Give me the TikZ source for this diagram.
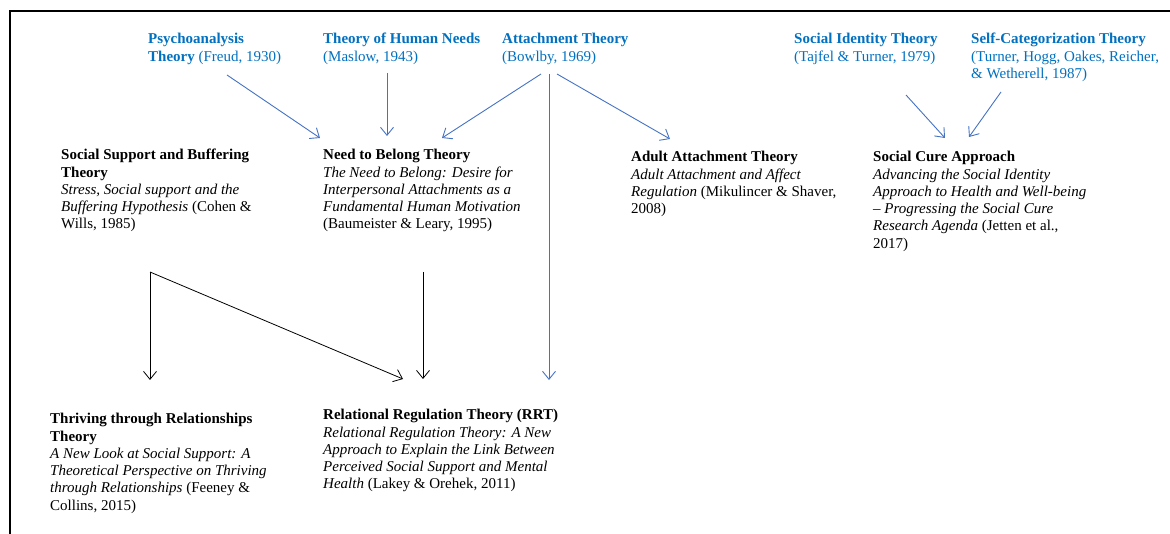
\documentclass[tikz,border=0pt]{standalone}
\usepackage{fontspec}
\setmainfont{Liberation Serif}
\usetikzlibrary{arrows.meta}
\definecolor{txtblue}{HTML}{0070C0}
\definecolor{arrblue}{HTML}{4472C4}
\newcommand{\mytab}[1]{\begin{tabular}[t]{@{}l@{}}#1\end{tabular}}
\begin{document}
\begin{tikzpicture}[x=1pt,y=-1pt,
  lbl/.style={anchor=base west, inner sep=0pt, font=\fontsize{15}{17.25}\selectfont},
  src/.style={lbl, text=txtblue},
  barb/.style={-{Straight Barb[length=8pt,width=13pt]}},
  blueconn/.style={draw=arrblue, line width=0.9pt, barb},
  blackconn/.style={draw=black, line width=0.8pt, barb},
  frame/.style={line width=1.5pt}]
\useasboundingbox (0,0) rectangle (1170,534);
\draw[frame] (10,534) -- (10,11) -- (1170,11);

% sources
\node[src] (psy) at (148,44) {\mytab{\textbf{Psychoanalysis}\\\textbf{Theory} (Freud, 1930)}};
\node[src] (maslow) at (323,44) {\mytab{\textbf{Theory of Human Needs}\\(Maslow, 1943)}};
\node[src] (bowlby) at (502,44) {\mytab{\textbf{Attachment Theory}\\(Bowlby, 1969)}};
\node[src] (sit) at (794,44) {\mytab{\textbf{Social Identity Theory}\\(Tajfel \& Turner, 1979)}};
\node[src] (sct) at (971,44) {\mytab{\textbf{Self-Categorization Theory}\\(Turner, Hogg, Oakes, Reicher,\\\& Wetherell, 1987)}};

% second row
\node[lbl] (ssb) at (61,160) {\mytab{\textbf{Social Support and Buffering}\\\textbf{Theory}\\\textit{Stress, Social support and the}\\\textit{Buffering Hypothesis} (Cohen \&\\Wills, 1985)}};
\node[lbl] (ntb) at (323,160) {\mytab{\textbf{Need to Belong Theory}\\\textit{The Need to Belong: Desire for}\\\textit{Interpersonal Attachments as a}\\\textit{Fundamental Human Motivation}\\(Baumeister \& Leary, 1995)}};
\node[lbl] (aat) at (631,162) {\mytab{\textbf{Adult Attachment Theory}\\\textit{Adult Attachment and Affect}\\\textit{Regulation} (Mikulincer \& Shaver,\\2008)}};
\node[lbl] (sca) at (873,162) {\mytab{\textbf{Social Cure Approach}\\\textit{Advancing the Social Identity}\\\textit{Approach to Health and Well-being}\\\textit{-- Progressing the Social Cure}\\\textit{Research Agenda} (Jetten et al.,\\2017)}};

% third row
\node[lbl] (ttr) at (50,424) {\mytab{\textbf{Thriving through Relationships}\\\textbf{Theory}\\\textit{A New Look at Social Support: A}\\\textit{Theoretical Perspective on Thriving}\\\textit{through Relationships} (Feeney \&\\Collins, 2015)}};
\node[lbl] (rrt) at (323,420) {\mytab{\textbf{Relational Regulation Theory (RRT)}\\\textit{Relational Regulation Theory: A New}\\\textit{Approach to Explain the Link Between}\\\textit{Perceived Social Support and Mental}\\\textit{Health} (Lakey \& Orehek, 2011)}};

% connector end points
\coordinate (psyOut) at (227,75);
\coordinate (ntbInA) at (320,138);
\coordinate (maslowOut) at (387,73);
\coordinate (ntbInB) at (387,136);
\coordinate (bowlbyOutA) at (541,74);
\coordinate (ntbInC) at (442,138);
\coordinate (bowlbyOutB) at (549,74);
\coordinate (rrtInC) at (549,380);
\coordinate (bowlbyOutC) at (557,74);
\coordinate (aatIn) at (670,139);
\coordinate (sitOut) at (906,95);
\coordinate (scaInA) at (945,138);
\coordinate (sctOut) at (1001,92);
\coordinate (scaInB) at (969,137);
\coordinate (ssbOut) at (150,272);
\coordinate (ttrIn) at (150,380);
\coordinate (rrtInA) at (403,379);
\coordinate (ntbOut) at (423,272);
\coordinate (rrtInB) at (423,379);

\draw[blueconn] (psyOut) -- (ntbInA);
\draw[blueconn] (maslowOut) -- (ntbInB);
\draw[blueconn] (bowlbyOutA) -- (ntbInC);
\draw[blueconn] (bowlbyOutB) -- (rrtInC);
\draw[blueconn] (bowlbyOutC) -- (aatIn);
\draw[blueconn] (sitOut) -- (scaInA);
\draw[blueconn] (sctOut) -- (scaInB);

\draw[blackconn] (ssbOut) -- (ttrIn);
\draw[blackconn] (ssbOut) -- (rrtInA);
\draw[blackconn] (ntbOut) -- (rrtInB);
\end{tikzpicture}
\end{document}
